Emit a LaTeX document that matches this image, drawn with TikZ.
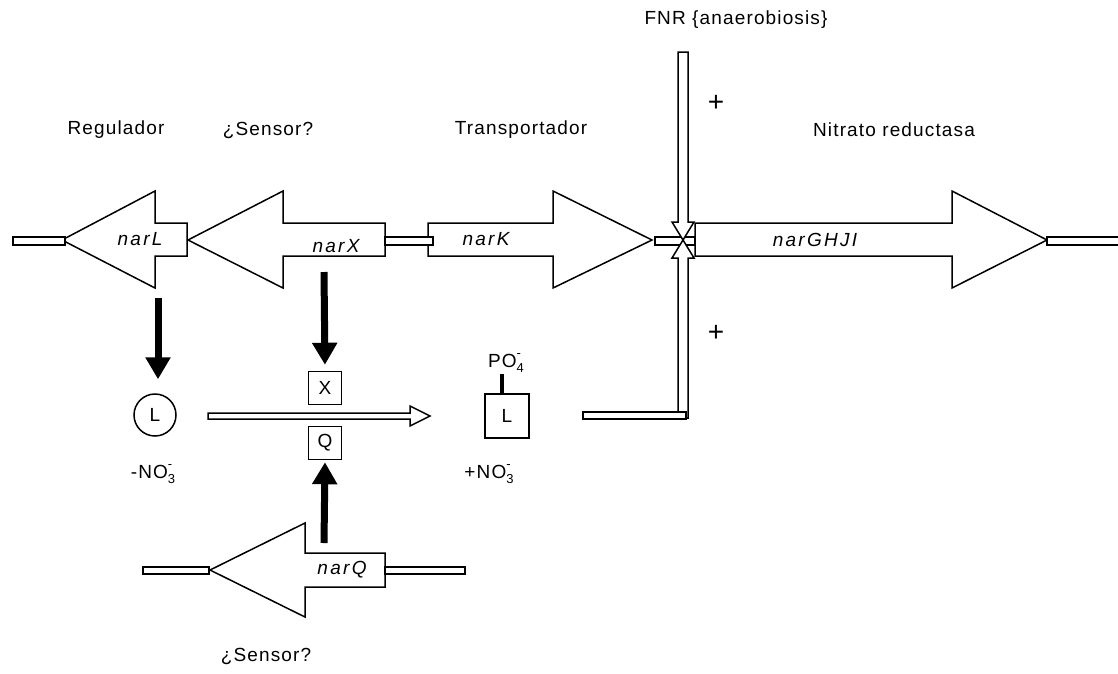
\documentclass[tikz,border=0pt]{standalone}
\usepackage{fontspec}
\setmainfont{Liberation Sans}
\newfontfamily\lblfont[LetterSpace=6]{Liberation Sans}
\newfontfamily\genefont[LetterSpace=12]{Liberation Sans}
\usetikzlibrary{arrows.meta}
\newcommand{\ionchg}[2]{\rlap{\raisebox{1.0ex}{\fontsize{13}{13}\selectfont #2}}\raisebox{-0.45ex}{\fontsize{13}{13}\selectfont #1}}
\begin{document}
\begin{tikzpicture}[x=1pt,y=-1pt,
  gene/.style={draw=black,line width=1.5pt,fill=white,line join=miter},
  strip/.style={draw=black,line width=1.5pt,fill=white},
  lbl/.style={font=\lblfont\fontsize{19}{21}\selectfont,inner sep=0pt},
  genename/.style={font=\genefont\itshape\fontsize{19}{21}\selectfont,inner sep=0pt},
  bigarrow/.style={line width=7pt,-{Triangle[width=24pt,length=22pt]}},
  sbox/.style={draw=black,line width=1.5pt,inner sep=0pt,font=\lblfont\fontsize{19}{21}\selectfont},
  plus/.style={font=\fontsize{28}{28}\selectfont,inner sep=0pt}]
\useasboundingbox (0,0) rectangle (1118,673);

% operon: narL and narX point left, narK and narGHJI point right
\path[gene] (187,223) -- (155,223) -- (155,191) -- (62,240) -- (155,288) -- (155,256) -- (187,256) -- cycle;
\path[gene] (385,223) -- (283,223) -- (283,191) -- (188,240) -- (283,288) -- (283,256) -- (385,256) -- cycle;
\path[gene] (428,223) -- (553,223) -- (553,191) -- (652,240) -- (553,288) -- (553,256) -- (428,256) -- cycle;
\path[gene] (695,223) -- (952,223) -- (952,191) -- (1047,240) -- (952,288) -- (952,256) -- (695,256) -- cycle;

% intergenic DNA
\path[strip] (13,237) rectangle (65,245);
\path[strip] (385,237) rectangle (433,245);
\path[strip] (655,237) rectangle (695,245);
\path[strip] (1047,237) rectangle (1124,245);

% FNR activation from above and phosphorylated NarL from below
\path[strip] (678,52) -- (688,52) -- (688,222) -- (694,222) -- (683,240) -- (672,222) -- (678,222) -- cycle;
\path[strip] (678,418) -- (678,258) -- (672,258) -- (683,240) -- (694,258) -- (688,258) -- (688,418) -- cycle;
\path[strip] (583,412) rectangle (686,419);

% narQ gene
\path[gene] (385,553) -- (305,553) -- (305,523) -- (210,570) -- (305,617) -- (305,587) -- (385,587) -- cycle;
\path[strip] (143,567) rectangle (209,574);
\path[strip] (385,567) rectangle (465,574);

% gene names
\node[genename] (narL) at (140,239) {narL};
\node[genename] (narX) at (336,246) {narX};
\node[genename] (narK) at (486,239) {narK};
\node[genename] (narG) at (815,240) {narGHJI};
\node[genename] (narQ) at (342,570) {narQ};

% functional labels
\node[lbl] (tReg) at (116,130) {Regulador};
\node[lbl] (tSen) at (268,130) {¿Sensor?};
\node[lbl] (tTra) at (521,130) {Transportador};
\node[lbl] (tNit) at (894,130) {Nitrato reductasa};
\node[lbl] (tFNR) at (736,20) {FNR \{anaerobiosis\}};
\node[lbl] (tSenQ) at (266,656) {¿Sensor?};
\node[plus] (p1) at (716,103) {+};
\node[plus] (p2) at (716,333) {+};

% proteins
\node[sbox,circle,minimum size=42pt] (L0) at (155,415) {L};
\node[sbox,minimum size=33pt] (X) at (325,388) {X};
\node[sbox,minimum size=33pt] (Q) at (325,443) {Q};
\node[sbox,minimum size=44pt] (L1) at (507,416) {L};
\node[lbl] (PO) at (506,363) {PO\ionchg{4}{-}};
\coordinate (POb) at (502,374);
\draw[line width=4pt] (L1.north -| POb) -- (POb);
\node[lbl] (noA) at (153,474) {-NO\ionchg{3}{-}};
\node[lbl] (noB) at (489,474) {+NO\ionchg{3}{-}};

% translation arrows
\coordinate (aL) at (158,298);
\coordinate (aX) at (324,272);
\coordinate (aQ) at (324,543);
\draw[bigarrow,shorten >=14pt] (aL) -- (aL |- L0.north);
\draw[bigarrow,shorten >=6pt] (aX) -- (X.north);
\draw[bigarrow,shorten >=2pt] (aQ) -- (Q.south);

% phosphorylation of NarL
\path[strip] (208,413) -- (410,413) -- (410,406) -- (430,416) -- (410,426) -- (410,419) -- (208,419) -- cycle;
\end{tikzpicture}
\end{document}
